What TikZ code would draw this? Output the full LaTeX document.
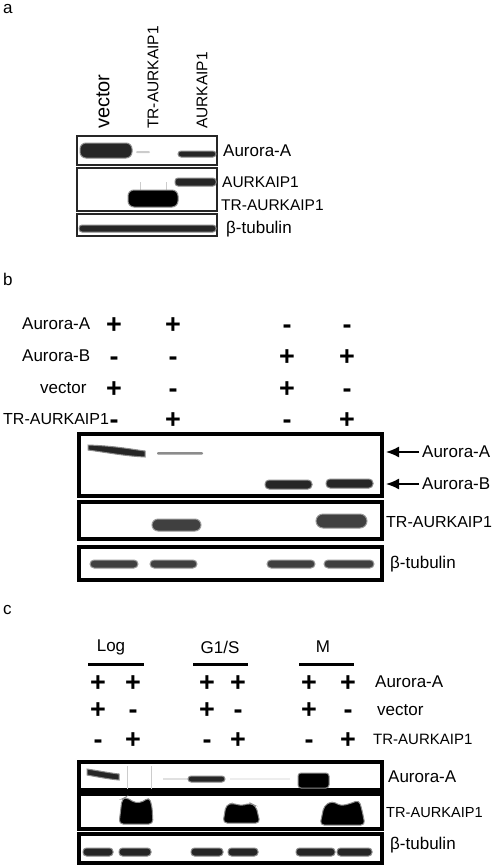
\documentclass[tikz,border=0pt]{standalone}
\usepackage{fontspec}
\setmainfont{Liberation Sans}
\usetikzlibrary{arrows.meta}

\tikzset{
  lbl/.style={inner sep=0pt, font=\fontsize{17}{20}\selectfont},
  lblsm/.style={inner sep=0pt, font=\fontsize{15.5}{18}\selectfont},
  sgn/.style={inner sep=0pt, anchor=base, font=\fontsize{27}{30}\selectfont\bfseries},
  thinbox/.style={draw=black!85, line width=1.4pt},
  thickbox/.style={draw=black, line width=3.2pt},
  band/.style={fill=black!85, draw=black!45, line width=1pt},
  greyband/.style={fill=black!75, draw=black!40, line width=1pt},
  faint/.style={draw=black!20, line width=0.8pt},
  markarrow/.style={line width=1.6pt, -{Latex[length=13pt,width=11pt]}},
}

\begin{document}
\begin{tikzpicture}[x=1pt,y=1pt,yscale=-1,xscale=1]
		\useasboundingbox (0,0) rectangle (495,868);

		% ---------------- panel a ----------------
		\node[lbl, anchor=base west] (pa) at (3,13) {a};

		% lane titles (rotated)
		\node[lbl, font=\fontsize{20}{22}\selectfont, rotate=90, anchor=west] (aVector) at (103,129) {vector};
		\node[lblsm, rotate=90, anchor=west] (aTr) at (153,129) {TR-AURKAIP1};
		\node[lblsm, rotate=90, anchor=west] (aAurk) at (202,129) {AURKAIP1};

		% blot frames
		\draw[thinbox] (77,136) rectangle (217,165);
		\draw[thinbox] (77,168) rectangle (217,211);
		\draw[thinbox] (77,214) rectangle (217,236);

		% Aurora-A bands
		\filldraw[band, rounded corners=6pt] (80,143) rectangle (132,158);
		\fill[black!20, rounded corners=1pt] (136,151) rectangle (150,153);
		\filldraw[band, rounded corners=3pt] (178,151) rectangle (216,157);

		% AURKAIP1 and TR-AURKAIP1 bands
		\filldraw[band, rounded corners=3pt] (175,178) rectangle (216,186);
		\draw[faint] (140,182) -- (140,192);
		\draw[faint] (166,182) -- (166,192);
		\filldraw[band, fill=black, rounded corners=6pt] (128,190) rectangle (178,207);

		% tubulin band
		\filldraw[band, rounded corners=3pt] (79,225) rectangle (216,232);

		% labels
		\node[lbl, anchor=west] (aLabA) at (223,151) {Aurora-A};
		\node[lblsm, anchor=west] (aLabAurk) at (222,182) {AURKAIP1};
		\node[lblsm, anchor=west] (aLabTr) at (221,205) {TR-AURKAIP1};
		\node[lbl, anchor=west] (aLabTub) at (226,229) {β-tubulin};

		% ---------------- panel b ----------------
		\node[lbl, anchor=base west] (pb) at (3,285) {b};

		% row titles
		\node[lbl, anchor=west] (bRowA) at (22,324) {Aurora-A};
		\node[lbl, anchor=west] (bRowB) at (22,356) {Aurora-B};
		\node[lbl, anchor=west] (bRowVec) at (40,388) {vector};
		\node[lbl, font=\fontsize{16}{18}\selectfont, anchor=west] (bRowTr) at (3,419) {TR-AURKAIP1};

		% plus / minus grid
		\foreach \x/\s [count=\i] in {114/+,173/+,287/-,347/-}
			\node[sgn] (bA\i) at (\x,333) {\s};
		\foreach \x/\s [count=\i] in {114/-,173/-,287/+,347/+}
			\node[sgn] (bB\i) at (\x,365) {\s};
		\foreach \x/\s [count=\i] in {114/+,173/-,287/+,347/-}
			\node[sgn] (bV\i) at (\x,397) {\s};
		\foreach \x/\s [count=\i] in {114/-,173/+,287/-,347/+}
			\node[sgn] (bT\i) at (\x,428) {\s};

		% blot frames
		\draw[thickbox] (79,434) rectangle (382,496);
		\draw[thickbox] (79,502) rectangle (382,539);
		\draw[thickbox] (79,547) rectangle (382,580);

		% Aurora-A / Aurora-B bands
		\filldraw[band] (88,445) .. controls (115,446) and (130,449) .. (145,451)
			-- (145,457) .. controls (125,456) and (110,453) .. (88,450) -- cycle;
		\fill[black!45, rounded corners=1pt] (157,452) rectangle (203,454.5);
		\filldraw[band, rounded corners=4pt] (265,480) rectangle (312,489);
		\filldraw[band, rounded corners=4pt] (326,479) rectangle (373,488);

		% TR-AURKAIP1 bands
		\filldraw[greyband, rounded corners=6pt] (152,519) rectangle (201,531);
		\filldraw[greyband, rounded corners=7pt] (316,514) rectangle (367,528);

		% tubulin bands
		\foreach \xa/\xb in {90/138,150/197,267/315,324/374}
			\filldraw[greyband, rounded corners=4pt] (\xa,560) rectangle (\xb,568);

		% marker arrows and labels
		\coordinate (tipA) at (386,452);
		\coordinate (tipB) at (386,484);
		\node[lbl, anchor=west] (bLabA) at (422,452) {Aurora-A};
		\node[lbl, anchor=west] (bLabB) at (422,484) {Aurora-B};
		\draw[markarrow] (bLabA.west) ++(-3,0) -- (tipA);
		\draw[markarrow] (bLabB.west) ++(-3,0) -- (tipB);
		\node[lbl, font=\fontsize{16}{18}\selectfont, anchor=west] (bLabTr) at (386,522) {TR-AURKAIP1};
		\node[lbl, anchor=west] (bLabTub) at (390,564) {β-tubulin};

		% ---------------- panel c ----------------
		\node[lbl, anchor=base west] (pc) at (3,614) {c};

		% cell-cycle headers
		\node[lbl] (cLog) at (111,647) {Log};
		\node[lbl] (cGS) at (220,647) {G1/S};
		\node[lbl] (cM) at (323,647) {M};
		\draw[line width=3pt] (88,664) -- (144,664);
		\draw[line width=3pt] (193,664) -- (248,664);
		\draw[line width=3pt] (299,664) -- (354,664);

		% plus / minus grid
		\foreach \x [count=\i] in {98,133,207,238,309,348}
			\node[sgn] (cA\i) at (\x,691) {+};
		\foreach \x/\s [count=\i] in {98/+,133/-,207/+,238/-,309/+,348/-}
			\node[sgn] (cV\i) at (\x,718) {\s};
		\foreach \x/\s [count=\i] in {98/-,133/+,207/-,238/+,309/-,348/+}
			\node[sgn] (cT\i) at (\x,748) {\s};

		% row titles
		\node[lbl, anchor=west] (cRowA) at (375,682) {Aurora-A};
		\node[lbl, anchor=west] (cRowVec) at (377,710) {vector};
		\node[lbl, font=\fontsize{15}{18}\selectfont, anchor=west] (cRowTr) at (373,739) {TR-AURKAIP1};

		% blot frames
		\draw[thickbox] (79,762) rectangle (382,790);
		\draw[thickbox] (79,794) rectangle (382,829);
		\draw[thickbox] (79,834) rectangle (382,863);

		% Aurora-A bands
		\filldraw[band] (87,769) .. controls (100,771) and (110,773) .. (119,774)
			-- (119,780) .. controls (108,779) and (98,777) .. (87,775) -- cycle;
		\draw[faint] (127,766) -- (127,789);
		\draw[faint] (151,766) -- (151,789);
		\fill[black!12] (163,778) rectangle (188,780);
		\filldraw[band, rounded corners=3pt] (188,776) rectangle (225,782);
		\fill[black!7] (230,778) rectangle (290,780);
		\filldraw[band, fill=black, rounded corners=3pt] (298,773) rectangle (329,788);

		% TR-AURKAIP1 bands
		\filldraw[band, fill=black, rounded corners=4pt] (119,824) -- (122,799) -- (126,797) -- (135,803)
			-- (143,802) -- (149,797) -- (152,806) -- (153,824) -- cycle;
		\filldraw[band, fill=black, rounded corners=4pt] (223,823) -- (226,805) -- (233,803) -- (241,806)
			-- (250,803) -- (256,806) -- (260,823) -- cycle;
		\filldraw[band, fill=black, rounded corners=4pt] (320,825) -- (324,806) -- (332,801) -- (341,806)
			-- (352,803) -- (359,800) -- (362,810) -- (365,825) -- cycle;

		% tubulin bands
		\foreach \xa/\xb in {83/113,119/151,191/223,228/258,296/335,337/372}
			\filldraw[band, rounded corners=3.5pt] (\xa,848) rectangle (\xb,856);

		% labels
		\node[lbl, anchor=west] (cLabA) at (388,777) {Aurora-A};
		\node[lbl, font=\fontsize{14.6}{17}\selectfont, anchor=west] (cLabTr) at (386,813) {TR-AURKAIP1};
		\node[lbl, anchor=west] (cLabTub) at (390,845) {β-tubulin};
	\end{tikzpicture}
\end{document}
